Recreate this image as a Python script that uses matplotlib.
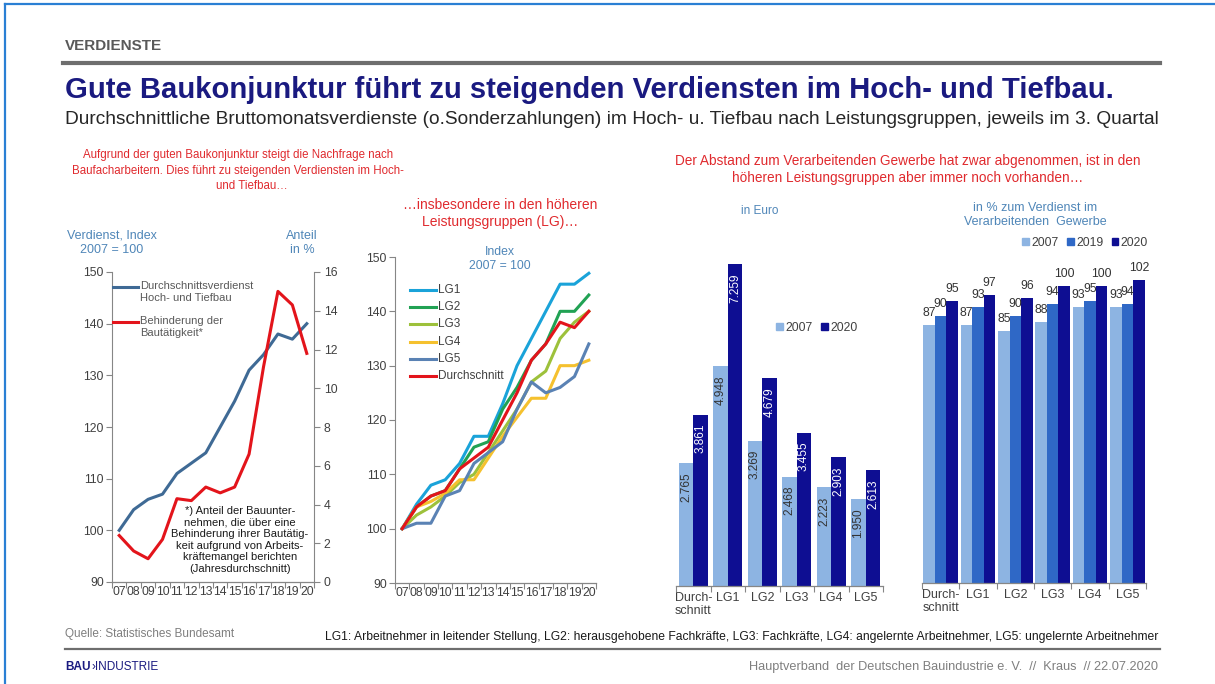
import matplotlib
matplotlib.use("Agg")
import matplotlib.pyplot as plt
from matplotlib.transforms import Affine2D
from matplotlib.lines import Line2D
from matplotlib.patches import Patch
import numpy as np

plt.rcParams['font.family'] = ['Liberation Sans', 'DejaVu Sans']

# ---------------- data ----------------
years = ["07", "08", "09", "10", "11", "12", "13", "14", "15", "16", "17", "18", "19", "20"]
avg_index = [100, 104, 106, 107, 111, 113, 115, 120, 125, 131, 134, 138, 137, 140]
hindrance = [2.4, 1.6, 1.2, 2.2, 4.3, 4.2, 4.9, 4.6, 4.9, 6.6, 11.1, 15.0, 14.3, 11.8]

lg1 = [100, 104.5, 108, 109, 112, 117, 117, 123, 130, 135, 140, 145, 145, 147]
lg2 = [100, 104, 106, 107, 111, 115, 116, 122, 126, 131, 134, 140, 140, 143]
lg3 = [100, 102.5, 104, 106, 108.5, 110, 114, 118, 122, 127, 129, 135, 138, 140]
lg4 = [100, 104, 105, 106.5, 109, 109, 113, 117, 120.5, 124, 124, 130, 130, 131]
lg5 = [100, 101, 101, 106, 107, 112, 114, 116, 122, 127, 125, 126, 128, 134]
lg_names = ["LG1", "LG2", "LG3", "LG4", "LG5", "Durchschnitt"]

groups = ["Durch-\nschnitt", "LG1", "LG2", "LG3", "LG4", "LG5"]
eur_2007 = [2765, 4948, 3269, 2468, 2223, 1950]
eur_2020 = [3861, 7259, 4679, 3455, 2903, 2613]

pct_2007 = [87, 87, 85, 88, 93, 93]
pct_2019 = [90, 93, 90, 94, 95, 94]
pct_2020 = [95, 97, 96, 100, 100, 102]

# ---------------- styling ----------------
W, H = 1215, 684
fig = plt.figure(figsize=(W / 100, H / 100), dpi=100)
T = Affine2D().scale(1 / W, -1 / H).translate(0, 1) + fig.transFigure
R = fig.canvas.get_renderer()

def px_axes(l, t, r, b):
    return fig.add_axes([l / W, 1 - b / H, (r - l) / W, (b - t) / H])

SPINE = '#868686'
TICK = '#404040'
RED_TXT = '#e02a2e'
STEEL = '#4f86b8'
C_LIGHT = '#8db4e2'
C_MID = '#2f68c6'
C_DARK = '#0e0e92'
LG_COLORS = ['#1aa3d9', '#21a254', '#9dc13b', '#f5c12e', '#5a82b4', '#e3141b']

def style_cat_axis(ax, n, labels, fs):
    ax.set_xlim(-0.5, n - 0.5)
    ax.set_xticks(np.arange(n))
    ax.set_xticklabels(labels, fontsize=fs, color=TICK)
    ax.set_xticks(np.arange(n + 1) - 0.5, minor=True)
    ax.tick_params(axis='x', which='major', length=0, pad=3)
    ax.tick_params(axis='x', which='minor', length=4, color=SPINE, width=0.8, direction='out')
    for s in ['top', 'right', 'left']:
        ax.spines[s].set_visible(False)
    ax.spines['bottom'].set_color(SPINE)
    ax.spines['bottom'].set_linewidth(0.9)

# frame
fig.add_artist(Line2D([5, 5], [4, 684], transform=T, color='#2a7fd4', lw=1.6))
fig.add_artist(Line2D([5, 1215], [4, 4], transform=T, color='#2a7fd4', lw=1.6))

# header
fig.text(65, 46, "VERDIENSTE", transform=T, fontsize=11, fontweight='bold', color='#595959', va='center')
fig.add_artist(Line2D([63, 1160], [63, 63], transform=T, color='#6e6e6e', lw=3))
fig.text(65, 90, "Gute Baukonjunktur führt zu steigenden Verdiensten im Hoch- und Tiefbau.",
         transform=T, fontsize=21.1, fontweight='bold', color='#1a1a80', va='center')
fig.text(65, 119, "Durchschnittliche Bruttomonatsverdienste (o.Sonderzahlungen) im Hoch- u. Tiefbau nach "
         "Leistungsgruppen, jeweils im 3. Quartal", transform=T, fontsize=13.8, color='#262626', va='center')

cap1 = ["Aufgrund der guten Baukonjunktur steigt die Nachfrage nach",
        "Baufacharbeitern. Dies führt zu steigenden Verdiensten im Hoch-",
        "und Tiefbau…"]
cap1_y = [155, 171, 186]
cap1_x = [238, 238, 252]
for s, yy, xx in zip(cap1, cap1_y, cap1_x):
    fig.text(xx, yy, s, transform=T, fontsize=8.3, color=RED_TXT, ha='center', va='center')

cap2 = ["…insbesondere in den höheren", "Leistungsgruppen (LG)…"]
for s, yy in zip(cap2, [205, 222]):
    fig.text(500, yy, s, transform=T, fontsize=10, color=RED_TXT, ha='center', va='center')

cap3 = ["Der Abstand zum Verarbeitenden Gewerbe hat zwar abgenommen, ist in den",
        "höheren Leistungsgruppen aber immer noch vorhanden…"]
for s, yy in zip(cap3, [161, 178]):
    fig.text(908, yy, s, transform=T, fontsize=9.8, color=RED_TXT, ha='center', va='center')

# ---------------- chart 1 ----------------
x = np.arange(len(years))
ax1 = px_axes(112, 272, 314, 582)
ax1.plot(x, avg_index, color='#3f6a95', lw=2.2)
ax1.set_ylim(90, 150)
ax1.set_yticks(np.arange(90, 151, 10))
style_cat_axis(ax1, len(years), years, 8.8)
ax1.spines['left'].set_visible(True)
ax1.spines['left'].set_color(SPINE)
ax1.tick_params(axis='y', length=4, color=SPINE, labelsize=8.8, labelcolor=TICK, pad=2)
ax1b = ax1.twinx()
ax1b.plot(x, hindrance, color='#e3141b', lw=2.2)
ax1b.set_ylim(0, 16)
ax1b.set_yticks(np.arange(0, 17, 2))
for s in ['top', 'left', 'bottom']:
    ax1b.spines[s].set_visible(False)
ax1b.spines['right'].set_color(SPINE)
ax1b.tick_params(axis='y', length=4, color=SPINE, labelsize=8.8, labelcolor=TICK, pad=3)

fig.text(112, 243, "Verdienst, Index\n2007 = 100", transform=T, fontsize=9, color=STEEL,
         ha='center', va='center', linespacing=1.25)
fig.text(302, 243, "Anteil\nin %", transform=T, fontsize=9, color=STEEL,
         ha='center', va='center', linespacing=1.25)

legend1 = [("Durchschnittsverdienst\nHoch- und Tiefbau", '#3f6a95', 287),
           ("Behinderung der\nBautätigkeit*", '#e3141b', 322)]
for lab, col, yy in legend1:
    fig.add_artist(Line2D([113, 138], [yy, yy], transform=T, color=col, lw=2.2))
    fig.text(140, yy - 6, lab, transform=T, fontsize=8, color='#595959', va='top', linespacing=1.3)

fig.text(240, 540, "*) Anteil der Bauunter-\nnehmen, die über eine\nBehinderung ihrer Bautätig-\n"
         "keit aufgrund von Arbeits-\nkräftemangel berichten\n(Jahresdurchschnitt)",
         transform=T, fontsize=8, color='#1a1a1a', ha='center', va='center', linespacing=1.2)

# ---------------- chart 2 ----------------
ax2 = px_axes(395, 257, 596, 583)
series2 = [lg1, lg2, lg3, lg4, lg5, avg_index]
for s, c in zip(series2, LG_COLORS):
    ax2.plot(x, s, color=c, lw=2.2)
ax2.set_ylim(90, 150)
ax2.set_yticks(np.arange(90, 151, 10))
style_cat_axis(ax2, len(years), years, 8.8)
ax2.spines['left'].set_visible(True)
ax2.spines['left'].set_color(SPINE)
ax2.tick_params(axis='y', length=4, color=SPINE, labelsize=8.8, labelcolor=TICK, pad=2)
fig.text(500, 259, "Index\n2007 = 100", transform=T, fontsize=8.8, color=STEEL,
         ha='center', va='center', linespacing=1.25)
for i, (nm, c) in enumerate(zip(lg_names, LG_COLORS)):
    yy = 290 + i * 17.2
    fig.add_artist(Line2D([410, 436], [yy, yy], transform=T, color=c, lw=2.2))
    fig.text(438, yy, nm, transform=T, fontsize=8.5, color='#404040', va='center')

# ---------------- chart 3 ----------------
g = np.arange(len(groups))
ax3 = px_axes(676, 230, 883, 586)
bw = 0.42
b1 = ax3.bar(g - bw / 2, eur_2007, bw, color=C_LIGHT, label="2007")
b2 = ax3.bar(g + bw / 2, eur_2020, bw, color=C_DARK, label="2020")
ax3.set_ylim(0, 8025)
ax3.set_yticks([])
style_cat_axis(ax3, len(groups), groups, 9)
ax3.tick_params(axis='x', which='major', pad=4)
for bars, vals, col in [(b1, eur_2007, '#333333'), (b2, eur_2020, 'white')]:
    for rect, v in zip(bars, vals):
        ax3.annotate(f"{v:,}".replace(",", "."), (rect.get_x() + rect.get_width() / 2, v),
                     xytext=(0, -6.5), textcoords='offset points', rotation=90,
                     ha='center', va='top', fontsize=8.5, color=col)
ax3.legend(handles=[Patch(color=C_LIGHT, label="2007"), Patch(color=C_DARK, label="2020")],
           loc='center', bbox_to_anchor=(817 / W, 1 - 328 / H), bbox_transform=fig.transFigure,
           ncol=2, frameon=False, fontsize=8.8, handlelength=0.55, handleheight=0.55,
           handletextpad=0.2, columnspacing=0.7, labelcolor='#404040')
fig.text(760, 211, "in Euro", transform=T, fontsize=8.5, color=STEEL, ha='center', va='center')

# ---------------- chart 4 ----------------
ax4 = px_axes(922, 226, 1146, 583)
bw4 = 0.31
b41 = ax4.bar(g - bw4, pct_2007, bw4, color=C_LIGHT)
b42 = ax4.bar(g, pct_2019, bw4, color=C_MID)
b43 = ax4.bar(g + bw4, pct_2020, bw4, color=C_DARK)
ax4.set_ylim(0, 120.2)
ax4.set_yticks([])
style_cat_axis(ax4, len(groups), groups, 9)
ax4.tick_params(axis='x', which='major', pad=4)
for bars, vals in [(b41, pct_2007), (b42, pct_2019), (b43, pct_2020)]:
    for rect, v in zip(bars, vals):
        ax4.annotate(f"{v}", (rect.get_x() + rect.get_width() / 2, v), xytext=(0, 4),
                     textcoords='offset points', ha='center', va='bottom', fontsize=8.8, color='#333333')
ax4.legend(handles=[Patch(color=C_LIGHT, label="2007"), Patch(color=C_MID, label="2019"),
                    Patch(color=C_DARK, label="2020")],
           loc='center', bbox_to_anchor=(1085 / W, 1 - 243 / H), bbox_transform=fig.transFigure,
           ncol=3, frameon=False, fontsize=8.8, handlelength=0.55, handleheight=0.55,
           handletextpad=0.2, columnspacing=0.7, labelcolor='#404040')
fig.text(1035, 215, "in % zum Verdienst im\nVerarbeitenden  Gewerbe", transform=T, fontsize=9,
         color=STEEL, ha='center', va='center', linespacing=1.3)

# ---------------- footer ----------------
fig.text(65, 634, "Quelle: Statistisches Bundesamt", transform=T, fontsize=8.5, color='#7f7f7f', va='center')
fig.text(1158, 637, "LG1: Arbeitnehmer in leitender Stellung, LG2: herausgehobene Fachkräfte, LG3: Fachkräfte, "
         "LG4: angelernte Arbeitnehmer, LG5: ungelernte Arbeitnehmer", transform=T, fontsize=8.75,
         color='#1a1a1a', ha='right', va='center')
fig.add_artist(Line2D([65, 1160], [649, 649], transform=T, color='#6e6e6e', lw=1.6))
t_bau = fig.text(65, 667, "BAU", transform=T, fontsize=8.5, fontweight='bold', color='#1a1a80', va='center')
bau_w = t_bau.get_window_extent(renderer=R).width
fig.text(65 + bau_w + 1, 667, "›INDUSTRIE", transform=T, fontsize=8.5, color='#1a1a80', va='center')
fig.text(1158, 667, "Hauptverband  der Deutschen Bauindustrie e. V.  //  Kraus  // 22.07.2020", transform=T,
         fontsize=9.2, color='#7f7f7f', ha='right', va='center')

fig.savefig("out.png", dpi=100)
